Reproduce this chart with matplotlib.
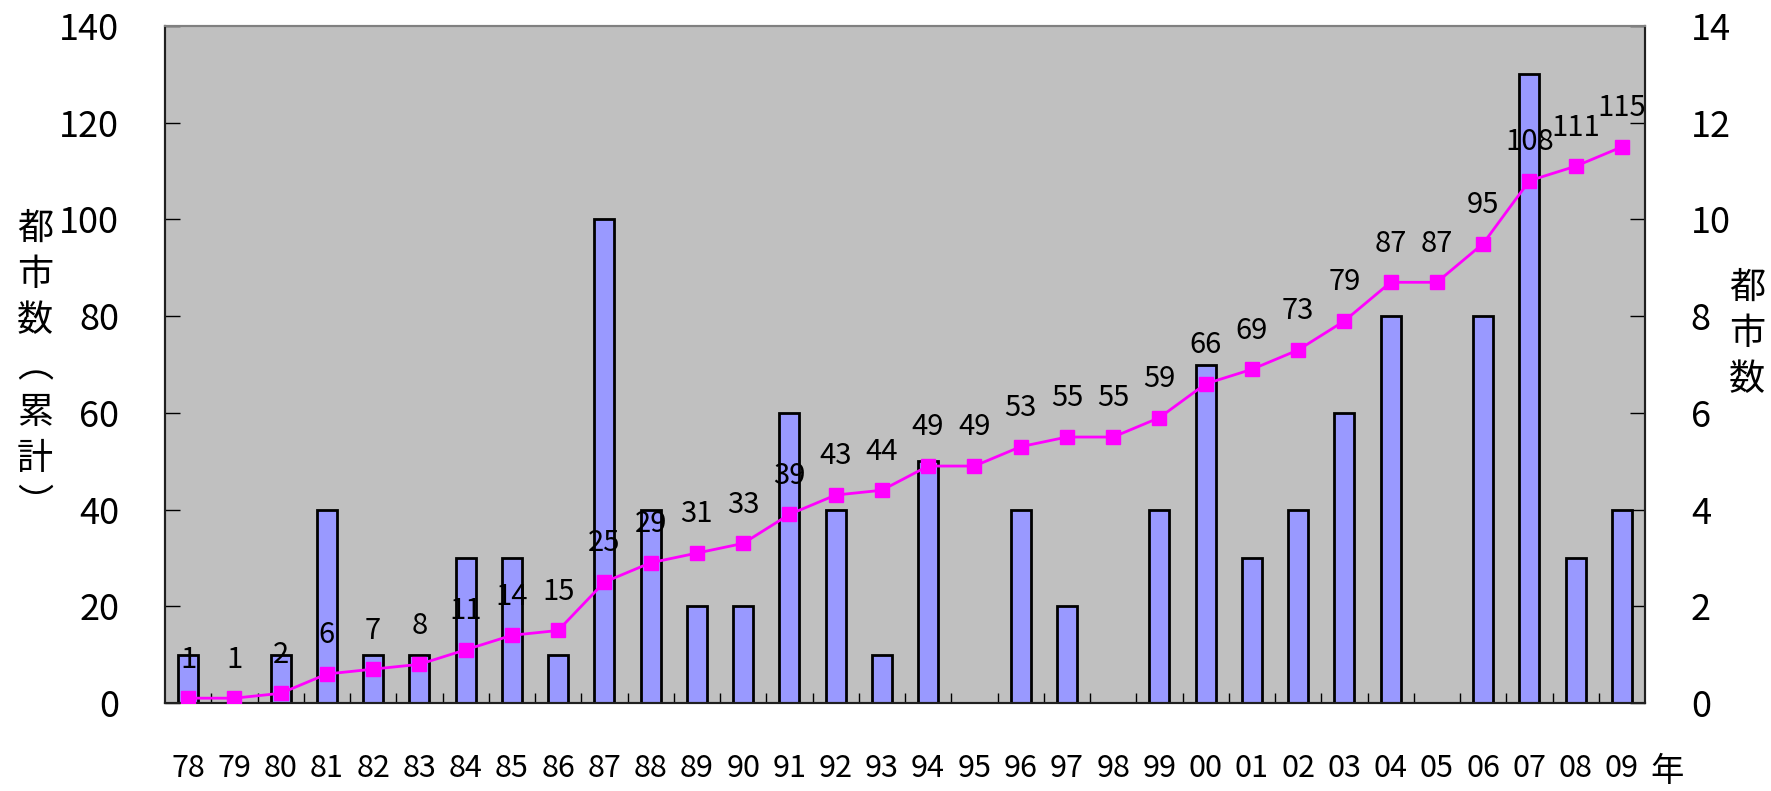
import numpy as np
import matplotlib.pyplot as plt

plt.rcParams['font.family'] = ['Noto Sans CJK JP', 'DejaVu Sans']

# 年ごとの新規都市数と累計
years = ['78', '79', '80', '81', '82', '83', '84', '85', '86', '87', '88',
         '89', '90', '91', '92', '93', '94', '95', '96', '97', '98', '99',
         '00', '01', '02', '03', '04', '05', '06', '07', '08', '09']
new_cities = [1, 0, 1, 4, 1, 1, 3, 3, 1, 10, 4, 2, 2, 6, 4, 1, 5, 0, 4, 2, 0, 4,
              7, 3, 4, 6, 8, 0, 8, 13, 3, 4]
cumulative = [1, 1, 2, 6, 7, 8, 11, 14, 15, 25, 29, 31, 33, 39, 43, 44, 49, 49,
              53, 55, 55, 59, 66, 69, 73, 79, 87, 87, 95, 108, 111, 115]

W, H = 1771, 791
fig = plt.figure(figsize=(W / 100, H / 100), dpi=100)
ax = fig.add_axes([165 / W, 1 - 703 / H, (1645 - 165) / W, (703 - 26) / H])
x = np.arange(len(years))

# 棒グラフ（右軸：都市数）
ax.set_facecolor('#c0c0c0')
ax.bar(x, new_cities, width=0.43, color='#9999ff', edgecolor='black',
       linewidth=2, zorder=2)
ax.set_ylim(0, 14)
ax.set_yticks(range(0, 15, 2))
ax.set_xlim(-0.5, len(years) - 0.5)
ax.set_xticks(x)
ax.set_xticklabels(years)
ax.tick_params(axis='x', length=0, labelsize=22, pad=36)
ax.set_xticks(x[:-1] + 0.5, minor=True)
ax.tick_params(axis='x', which='minor', direction='in', length=7, width=1)

# 折れ線（左軸：累計）
ax2 = ax.twinx()
ax2.plot(x, cumulative, color='#ff00ff', linewidth=2, marker='s',
         markersize=9.5, zorder=3)
ax2.set_ylim(0, 140)
ax2.set_yticks(range(0, 141, 20))
for xi, v in zip(x, cumulative):
    ax2.annotate(str(v), (xi, v), xytext=(0, 17), textcoords='offset points',
                 ha='center', va='bottom', fontsize=21, zorder=5)

# 目盛りの左右入れ替え（twinx の後で設定）
ax.yaxis.tick_right()
ax2.yaxis.tick_left()
for a in (ax, ax2):
    a.tick_params(axis='y', direction='in', length=11, width=1,
                  labelsize=26, pad=33)
    a.spines['top'].set_color('#808080')
    a.spines['top'].set_linewidth(1.5)
    for s in ('left', 'right', 'bottom'):
        a.spines[s].set_color('#202020')
        a.spines[s].set_linewidth(1.5)

# 軸タイトル（縦書き）
fig.text(35 / W, 1 - 367 / H, '\n'.join('都市数︵累計︶'), ha='center',
         va='center', fontsize=26, linespacing=1.36)
fig.text(1747 / W, 1 - 334 / H, '\n'.join('都市数'), ha='center',
         va='center', fontsize=26, linespacing=1.36)
fig.text(1667 / W, 1 - 772 / H, '年', ha='center', va='center', fontsize=24)

fig.savefig('out.png', dpi=100)
